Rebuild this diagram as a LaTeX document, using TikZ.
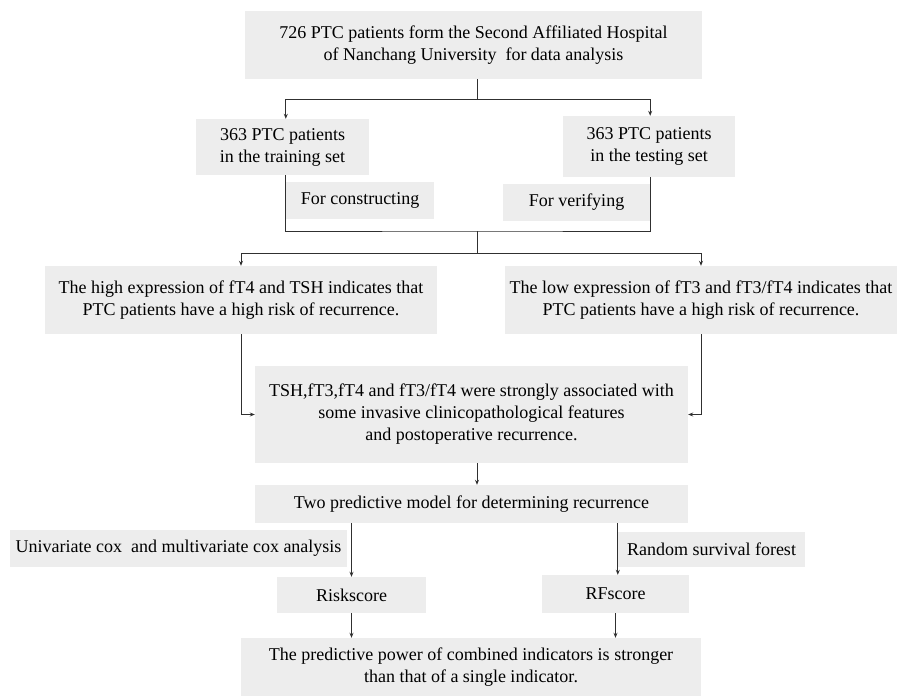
\documentclass[tikz,border=0pt]{standalone}
\usepackage{fontspec}
\setmainfont{Liberation Serif}
\usetikzlibrary{arrows.meta}
\definecolor{boxgray}{HTML}{EDEDED}
\definecolor{linegray}{HTML}{303030}
\tikzset{
  box/.style={fill=boxgray, draw=none, inner sep=0pt, align=center, font=\fontsize{18}{22}\selectfont},
  conn/.style={draw=linegray, line width=0.9pt},
  arr/.style={conn, -{Stealth[length=5pt,width=4pt]}},
}
\begin{document}
\begin{tikzpicture}[x=1pt,y=-1pt]
\useasboundingbox (0,0) rectangle (903,696);
% boxes
\node[box, minimum width=457, minimum height=68] (top) at (473.5,45) {726 PTC patients form the Second Affiliated Hospital\\of Nanchang University\ \ for data analysis};
\node[box, minimum width=173, minimum height=56] (train) at (282.5,147) {363 PTC patients\\in the training set};
\node[box, minimum width=172, minimum height=61] (test) at (649,146.5) {363 PTC patients\\in the testing set};
\node[box, minimum width=148, minimum height=37] (cons) at (360,200.5) {For constructing};
\node[box, minimum width=147, minimum height=37] (verif) at (576.5,202.5) {For verifying};
\node[box, minimum width=392, minimum height=68] (high) at (241,300) {The high expression of fT4 and TSH indicates that\\PTC patients have a high risk of recurrence.};
\node[box, minimum width=392, minimum height=68] (low) at (701,300) {The low expression of fT3 and fT3/fT4 indicates that\\PTC patients have a high risk of recurrence.};
\node[box, minimum width=433, minimum height=97] (mid) at (471.5,414.5) {TSH,fT3,fT4 and fT3/fT4 were strongly associated with\\some invasive clinicopathological features\\and postoperative recurrence.};
\node[box, minimum width=433, minimum height=38] (two) at (471.5,504) {Two predictive model for determining recurrence};
\node[box, minimum width=337, minimum height=37] (uni) at (178.5,548.5) {Univariate cox\ \ and multivariate cox analysis};
\node[box, minimum width=187, minimum height=35] (rsf) at (711.5,549.5) {Random survival forest};
\node[box, minimum width=149, minimum height=36] (risk) at (351.5,595) {Riskscore};
\node[box, minimum width=147, minimum height=38] (rf) at (615.5,594) {RFscore};
\node[box, minimum width=460, minimum height=58] (final) at (471,667) {The predictive power of combined indicators is stronger\\than that of a single indicator.};
% junctions
\coordinate (jA) at (477,99);
\coordinate (jB) at (477,231);
\coordinate (jC) at (477,253);
% connectors
\draw[conn] (jA |- top.south) -- (jA);
\draw[arr] (jA) -| (train.north -| cons.west);
\draw[arr] (jA) -| (test.north -| verif.east);
\draw[conn] (train.south -| cons.west) |- (jB) -| (test.south -| verif.east);
\draw[conn] (jB) -- (jC);
\draw[arr] (jC) -| (high.north);
\draw[arr] (jC) -| (low.north);
\draw[arr] (high.south) |- (mid.west);
\draw[arr] (low.south) |- (mid.east);
\draw[arr] (jC |- mid.south) -- (jC |- two.north);
\draw[arr] (two.south -| risk.north) -- (risk.north);
\draw[arr] (two.south -| rsf.west) -- (rf.north -| rsf.west);
\draw[arr] (risk.south) -- (final.north -| risk.south);
\draw[arr] (rf.south) -- (final.north -| rf.south);
\end{tikzpicture}
\end{document}
